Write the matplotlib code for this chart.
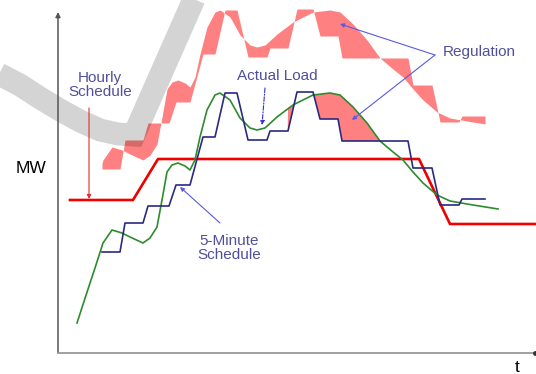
import numpy as np
import matplotlib
matplotlib.use("Agg")
import matplotlib.pyplot as plt

plt.rcParams['font.family'] = ['Liberation Sans', 'DejaVu Sans']

# Hourly schedule (time units, MW units above the time axis)
hourly_t = [12, 75, 100, 361, 392, 478]
hourly_mw = [153, 153, 194, 194, 129, 129]

# 5-minute schedule: stepped, with short ramps between the steps
sched_t = [44, 62, 67, 85, 90, 111, 118, 132, 145, 157, 167, 179, 190, 209,
           212, 230, 239, 255, 262, 280, 284, 350, 355, 374, 382, 401, 404, 427]
sched_mw = [101, 101, 130, 130, 147, 147, 168, 168, 216, 216, 260, 260, 213, 213,
            222, 222, 261, 261, 234, 234, 212, 212, 185, 185, 148, 148, 154, 154]

# Actual load
load_t = [19, 32, 37, 45, 54, 64, 72, 85, 92, 99, 104, 109, 114, 120, 127, 132,
          137, 142, 149, 157, 162, 172, 182, 192, 199, 207, 219, 235, 255, 272,
          282, 295, 309, 322, 335, 345, 355, 365, 379, 392, 409, 440]
load_mw = [30, 70, 85, 110, 123, 120, 116, 110, 115, 126, 153, 181, 188, 190,
           187, 183, 193, 216, 243, 258, 260, 253, 235, 225, 223, 225, 236, 248,
           258, 260, 258, 246, 230, 212, 201, 193, 181, 170, 158, 152, 149, 144]

# Watermark swoosh (centre line)
swoosh_t = [-63, -38, -18, 2, 22, 42, 60, 76, 140]
swoosh_mw = [281, 268, 255, 243, 232, 223, 219, 218, 363]

reg_lift = 83            # vertical lift of the regulation ribbon
reg_window = (230, 345)  # span where regulation area is shaded under the load

text_color = '#50509A'
band_color = '#FF8080'

fig = plt.figure(figsize=(5.36, 3.74), dpi=100)
ax = fig.add_axes([0, 0, 1, 1])
ax.set_xlim(-58, 478)
ax.set_ylim(-21, 353)
ax.axis('off')

# Regulation ribbon: gap between the load and the 5-minute schedule, lifted up
tg = np.linspace(sched_t[0], sched_t[-1], 1500)
s_i = np.interp(tg, sched_t, sched_mw)
l_i = np.interp(tg, load_t, load_mw)
ax.fill_between(tg, s_i + reg_lift, l_i + reg_lift, color=band_color,
                linewidth=0, zorder=1)

# Regulation area between the curves during the peak
mask = (l_i > s_i) & (tg >= reg_window[0]) & (tg <= reg_window[1])
ax.fill_between(tg, s_i, l_i, where=mask, color=band_color, linewidth=0,
                zorder=1, interpolate=True)

# Watermark swoosh
ax.plot(swoosh_t, swoosh_mw, color='black', alpha=0.17, lw=16.5,
        solid_joinstyle='miter', solid_capstyle='butt', zorder=2)

# Axes
ax.annotate('', xy=(0, 341), xytext=(0, 0),
            arrowprops=dict(arrowstyle='-|>', color='#555555', lw=1.1,
                            mutation_scale=7, shrinkA=0, shrinkB=0), zorder=3)
ax.plot([0, 478], [0, 0], color='#999999', lw=1.3, zorder=3)
ax.plot([477], [0], marker='o', ms=2.5, color='#333333', zorder=3)

# Curves
ax.plot(hourly_t, hourly_mw, color='#EE0000', lw=1.9, zorder=4)
ax.plot(load_t, load_mw, color='#2E8B2E', lw=1.2, zorder=5)
ax.plot(sched_t, sched_mw, color='#2A2A80', lw=1.2, zorder=6)

# Labels
ax.text(-27, 185, 'MW', fontsize=12.5, ha='center', va='center', color='black')
ax.text(459, -14, 't', fontsize=12.5, ha='center', va='center', color='black')

ax.text(42, 268, 'Hourly\nSchedule', fontsize=11, ha='center', va='center',
        color=text_color, linespacing=1.05, zorder=7)
ax.annotate('', xy=(31, 154), xytext=(31, 245),
            arrowprops=dict(arrowstyle='-|>', color='#E03030', lw=0.8,
                            mutation_scale=6, shrinkA=0, shrinkB=0), zorder=7)

ax.text(219, 277, 'Actual Load', fontsize=11, ha='center', va='center',
        color=text_color, zorder=7)
ax.annotate('', xy=(204, 228), xytext=(207, 265),
            arrowprops=dict(arrowstyle='-|>', color='#3030CC', lw=0.8,
                            linestyle=(0, (4, 1.5, 1, 1.5)),
                            mutation_scale=6, shrinkA=0, shrinkB=0), zorder=7)

ax.text(421, 301, 'Regulation', fontsize=11, ha='center', va='center',
        color=text_color, zorder=7)
for tip in [(282, 329), (294, 233)]:
    ax.annotate('', xy=tip, xytext=(377, 298),
                arrowprops=dict(arrowstyle='-|>', color='#5A5AE0', lw=0.8,
                                mutation_scale=6, shrinkA=0, shrinkB=0), zorder=7)

ax.text(171, 105, '5-Minute\nSchedule', fontsize=11, ha='center', va='center',
        color=text_color, linespacing=1.05, zorder=7)
ax.annotate('', xy=(122, 166), xytext=(162, 130),
            arrowprops=dict(arrowstyle='-|>', color='#5A5AE0', lw=0.8,
                            mutation_scale=6, shrinkA=0, shrinkB=0), zorder=7)

fig.savefig('out.png', dpi=100)
